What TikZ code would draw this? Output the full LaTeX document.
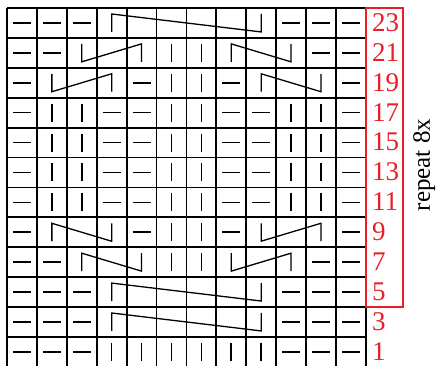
\documentclass[tikz,border=0pt]{standalone}
\usepackage{fontspec}
\setmainfont{Liberation Serif}
\definecolor{chartred}{RGB}{232,30,40}
\begin{document}
\begin{tikzpicture}[x=29.9pt,y=-29.9pt,
  gridline/.style={line width=1.8pt,black},
  knitsym/.style={line width=1.6pt,black},
  cableline/.style={line width=1.3pt,black,line join=miter},
  redline/.style={line width=1.4pt,chartred},
  rownum/.style={anchor=west,inner sep=0pt,text=chartred,font=\fontsize{27}{27}\selectfont},
  replabel/.style={rotate=90,inner sep=0pt,font=\fontsize{25}{25}\selectfont}]
\useasboundingbox (-7pt,8pt) rectangle (430pt,-357pt);
% grid
\foreach \i in {0,...,12} \draw[gridline] (\i,0) -- (\i,12);
\foreach \j in {0,...,12} \draw[gridline] (0,\j) -- (12,\j);
% purl dashes: list of col/row
\foreach \c/\r in {1/0,2/0,3/0,10/0,11/0,12/0,
  1/1,2/1,11/1,12/1,
  1/2,5/2,8/2,12/2,
  1/3,4/3,5/3,8/3,9/3,12/3,
  1/4,4/4,5/4,8/4,9/4,12/4,
  1/5,4/5,5/5,8/5,9/5,12/5,
  1/6,4/6,5/6,8/6,9/6,12/6,
  1/7,5/7,8/7,12/7,
  1/8,2/8,11/8,12/8,
  1/9,2/9,3/9,10/9,11/9,12/9,
  1/10,2/10,3/10,10/10,11/10,12/10,
  1/11,2/11,3/11,10/11,11/11,12/11}
  \draw[knitsym] ([xshift=-9pt]\c-0.5,\r+0.5) -- ([xshift=9pt]\c-0.5,\r+0.5);
% knit bars
\foreach \c/\r in {6/1,7/1,
  6/2,7/2,
  2/3,3/3,6/3,7/3,10/3,11/3,
  2/4,3/4,6/4,7/4,10/4,11/4,
  2/5,3/5,6/5,7/5,10/5,11/5,
  2/6,3/6,6/6,7/6,10/6,11/6,
  6/7,7/7,
  6/8,7/8,
  4/11,5/11,6/11,7/11,8/11,9/11}
  \draw[knitsym] (\c-0.5,\r+0.2) -- (\c-0.5,\r+0.8);
% cables
\foreach \r in {0,9,10}
  \draw[cableline] (3.5,\r+0.8) -- (3.5,\r+0.2) -- (8.5,\r+0.8) -- (8.5,\r+0.2);
\draw[cableline] (2.5,1.2) -- (2.5,1.8) -- (4.5,1.2) -- (4.5,1.8);
\draw[cableline] (7.5,1.8) -- (7.5,1.2) -- (9.5,1.8) -- (9.5,1.2);
\draw[cableline] (1.5,2.2) -- (1.5,2.8) -- (3.5,2.2) -- (3.5,2.8);
\draw[cableline] (8.5,2.8) -- (8.5,2.2) -- (10.5,2.8) -- (10.5,2.2);
\draw[cableline] (1.5,7.8) -- (1.5,7.2) -- (3.5,7.8) -- (3.5,7.2);
\draw[cableline] (8.5,7.2) -- (8.5,7.8) -- (10.5,7.2) -- (10.5,7.8);
\draw[cableline] (2.5,8.8) -- (2.5,8.2) -- (4.5,8.8) -- (4.5,8.2);
\draw[cableline] (7.5,8.2) -- (7.5,8.8) -- (9.5,8.2) -- (9.5,8.8);
% repeat box
\draw[redline] (12,0) rectangle (13.24,10);
% row numbers
\foreach \r in {0,...,11} {
  \pgfmathtruncatemacro{\n}{23-2*\r}
  \node[rownum] (row\n) at ([xshift=6pt,yshift=0.5pt]12,\r+0.5) {\n};
}
\node[replabel] (repeat) at (13.95,5.25) {repeat 8x};
\end{tikzpicture}
\end{document}
